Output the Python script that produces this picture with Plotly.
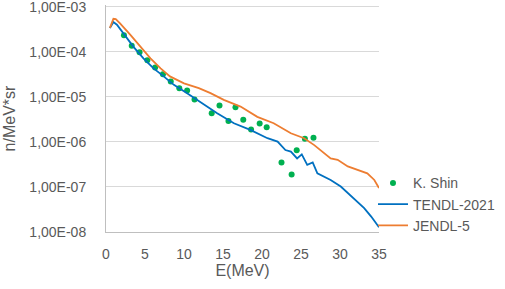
import plotly.graph_objects as go

# K. Shin experimental points
shin_e = [2.3, 3.3, 4.3, 5.3, 6.3, 7.3, 8.3, 9.4, 10.4, 11.35, 13.55, 14.55, 15.7, 16.6,
          17.6, 18.6, 19.7, 20.6, 22.5, 23.8, 24.45, 25.5, 26.6]
shin_y = [2.35e-4, 1.36e-4, 9.8e-5, 6.5e-5, 4.5e-5, 3.2e-5, 2.2e-5, 1.56e-5, 1.38e-5, 8.7e-6,
          4.35e-6, 6.4e-6, 2.9e-6, 5.9e-6, 3.1e-6, 1.88e-6, 2.55e-6, 2.12e-6, 3.5e-7, 1.9e-7,
          6.5e-7, 1.17e-6, 1.23e-6]

# TENDL-2021
tendl_e = [0.5, 0.95, 1.4, 2.2, 3.5, 4.8, 6.1, 7.4, 8.7, 10.4, 11.7, 12.1, 14.25, 16.4, 18.5,
           20.7, 22.0, 23.0, 23.7, 24.5, 25.1, 25.8, 26.5, 27.1, 28.8, 30.1, 31.8, 33.1, 34.0, 35.0]
tendl_y = [3.37e-4, 4.6e-4, 4.0e-4, 2.6e-4, 1.31e-4, 7.2e-5, 4.3e-5, 2.85e-5, 1.85e-5, 1.21e-5,
           8.6e-6, 7.9e-6, 4.35e-6, 2.6e-6, 1.85e-6, 1.21e-6, 1.02e-6, 6.6e-7, 6.1e-7, 4.3e-7,
           5.3e-7, 3.1e-7, 3.5e-7, 2.0e-7, 1.43e-7, 1.02e-7, 5.6e-8, 3.4e-8, 2.2e-8, 1.27e-8]

# JENDL-5
jendl_e = [0.5, 0.95, 1.25, 1.8, 3.1, 4.4, 5.7, 7.0, 8.2, 10.0, 11.9, 13.4, 15.1, 17.25, 19.4,
           21.5, 23.3, 23.7, 25.4, 26.7, 28.8, 29.7, 31.0, 33.5, 34.4, 35.0]
jendl_y = [3.4e-4, 5.4e-4, 5.3e-4, 4.3e-4, 2.4e-4, 1.31e-4, 7.2e-5, 4.3e-5, 2.85e-5, 2.0e-5,
           1.56e-5, 1.21e-5, 8.6e-6, 6.1e-6, 3.6e-6, 2.6e-6, 1.71e-6, 1.56e-6, 1.21e-6, 8.5e-7,
           4.3e-7, 4.0e-7, 2.85e-7, 2.0e-7, 1.43e-7, 9.5e-8]

y_tickvals = [1e-8, 1e-7, 1e-6, 1e-5, 1e-4, 1e-3]
y_ticktext = ["1,00E-08", "1,00E-07", "1,00E-06", "1,00E-05", "1,00E-04", "1,00E-03"]
x_tickvals = [0, 5, 10, 15, 20, 25, 30, 35]

fig = go.Figure()
fig.add_trace(go.Scatter(x=shin_e, y=shin_y, mode="markers", name="K. Shin",
                         marker=dict(color="#00B050", size=6)))
fig.add_trace(go.Scatter(x=tendl_e, y=tendl_y, mode="lines", name="TENDL-2021",
                         line=dict(color="#0070C0", width=1.8)))
fig.add_trace(go.Scatter(x=jendl_e, y=jendl_y, mode="lines", name="JENDL-5",
                         line=dict(color="#ED7D31", width=1.8)))

font_family = "Liberation Sans, Arial, sans-serif"
fig.update_layout(
    width=505, height=289,
    margin=dict(l=106, r=126, t=5, b=57, autoexpand=False),
    paper_bgcolor="white", plot_bgcolor="white",
    font=dict(family=font_family, size=12, color="#595959"),
    showlegend=True,
    legend=dict(x=0.978, y=0.285, xanchor="left", yanchor="top",
                font=dict(size=14, color="#595959"), itemwidth=30,
                bgcolor="rgba(0,0,0,0)", tracegroupgap=0),
    xaxis=dict(range=[0, 35], tickvals=x_tickvals, showgrid=False,
               showline=True, linecolor="#BFBFBF", linewidth=1,
               ticks="", tickfont=dict(size=14), automargin=False,
               ticklabelstandoff=9, ticklabeloverflow="allow",
               title=dict(text="E(MeV)", font=dict(size=16, color="#595959"), standoff=4),
               zeroline=False),
    yaxis=dict(type="log", range=[-8.0, -2.96], tickvals=y_tickvals, ticktext=y_ticktext,
               showgrid=True, gridcolor="#D9D9D9", gridwidth=1,
               showline=True, linecolor="#BFBFBF", linewidth=1,
               ticks="", tickfont=dict(size=14), automargin=False,
               ticklabelstandoff=16, ticklabeloverflow="allow",
               title=dict(text="n/MeV*sr", font=dict(size=16, color="#595959"), standoff=9),
               zeroline=False),
)

fig.write_html("out.html", config={"displayModeBar": False},
               post_script="document.body.style.margin='0px';")
